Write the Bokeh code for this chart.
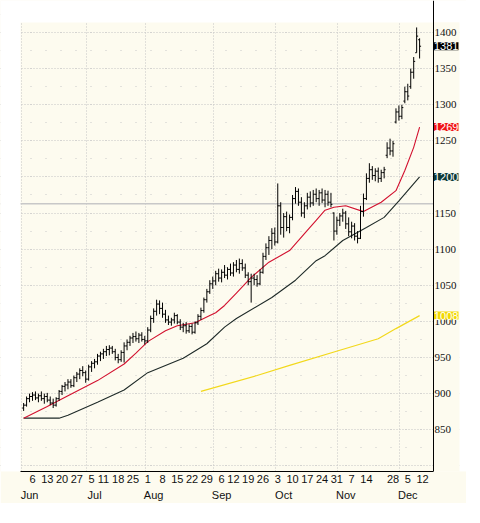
import pandas as pd
from bokeh.plotting import figure
from bokeh.models import (ColumnDataSource, FixedTicker, SingleIntervalTicker, Grid, LinearAxis,
                          Range1d, Span, Label, LabelSet, BoxAnnotation)
from bokeh.embed import file_html
from bokeh.resources import INLINE

# ---------------- data ----------------
first_day = "2005-06-01"
holidays = ["2005-07-04", "2005-09-05", "2005-11-24"]

opens = [880, 884, 893, 896, 898, 894, 897, 893, 896, 891, 887, 884, 893, 903, 910, 912, 916, 911, 922, 927,
         932, 929, 920, 937, 942, 944, 952, 955, 958, 961, 963, 958, 950, 947, 957, 966, 971, 977, 979, 976,
         981, 975, 973, 988, 1004, 1014, 1024, 1018, 1010, 1002, 999, 1002, 1008, 999, 992, 994, 987, 993, 985, 998,
         1007, 1015, 1030, 1041, 1052, 1056, 1066, 1060, 1068, 1064, 1072, 1067, 1078, 1072, 1080, 1074, 1064, 1055, 1060, 1058,
         1052, 1068, 1090, 1102, 1112, 1122, 1110, 1160, 1130, 1145, 1130, 1144, 1170, 1180, 1165, 1150, 1160, 1172, 1164, 1176,
         1170, 1178, 1168, 1176, 1165, 1150, 1125, 1140, 1146, 1150, 1135, 1124, 1132, 1118, 1115, 1152, 1170, 1198, 1210, 1202,
         1208, 1198, 1206, 1230, 1240, 1236, 1276, 1290, 1284, 1305, 1318, 1325, 1345, 1372, 1390]
highs = [887, 896, 900, 902, 903, 900, 903, 900, 901, 896, 893, 895, 905, 912, 916, 920, 920, 925, 930, 935,
         938, 932, 940, 945, 948, 955, 958, 962, 966, 967, 966, 962, 955, 960, 971, 975, 980, 984, 986, 984,
         985, 980, 992, 1008, 1018, 1030, 1029, 1026, 1016, 1008, 1005, 1012, 1010, 1003, 998, 999, 996, 997, 1000, 1010,
         1019, 1033, 1045, 1057, 1062, 1070, 1073, 1072, 1078, 1075, 1080, 1082, 1085, 1087, 1086, 1080, 1068, 1066, 1066, 1064,
         1072, 1095, 1108, 1118, 1129, 1130, 1191, 1165, 1150, 1152, 1148, 1175, 1186, 1184, 1172, 1165, 1178, 1180, 1182, 1184,
         1182, 1184, 1182, 1181, 1178, 1151, 1145, 1150, 1156, 1153, 1144, 1138, 1136, 1125, 1160, 1177, 1205, 1219, 1215, 1212,
         1213, 1210, 1214, 1248, 1253, 1250, 1295, 1299, 1300, 1325, 1329, 1350, 1366, 1407, 1392]
lows = [876, 882, 888, 890, 891, 888, 890, 886, 888, 884, 880, 882, 890, 898, 903, 906, 908, 909, 916, 920,
        924, 915, 918, 930, 935, 940, 945, 948, 952, 953, 955, 946, 942, 944, 943, 960, 966, 970, 972, 970,
        972, 968, 970, 985, 998, 1008, 1010, 1005, 998, 995, 994, 997, 996, 988, 985, 983, 984, 982, 983, 995,
        1002, 1012, 1026, 1038, 1045, 1050, 1055, 1054, 1060, 1058, 1063, 1062, 1068, 1066, 1070, 1060, 1050, 1026, 1050, 1048,
        1050, 1066, 1085, 1092, 1100, 1105, 1108, 1120, 1116, 1125, 1122, 1140, 1163, 1160, 1145, 1143, 1155, 1158, 1160, 1165,
        1160, 1164, 1158, 1160, 1158, 1112, 1120, 1132, 1138, 1128, 1118, 1115, 1112, 1108, 1114, 1145, 1168, 1192, 1196, 1194,
        1192, 1193, 1198, 1226, 1230, 1228, 1274, 1278, 1280, 1302, 1306, 1322, 1336, 1372, 1364]
closes = [884, 893, 896, 898, 894, 897, 893, 896, 891, 887, 884, 893, 903, 910, 912, 916, 911, 922, 927, 932,
          929, 920, 937, 942, 944, 952, 955, 958, 961, 963, 958, 950, 947, 957, 966, 971, 977, 979, 976, 981,
          975, 973, 988, 1004, 1014, 1024, 1018, 1010, 1002, 999, 1002, 1008, 999, 992, 994, 987, 993, 985, 998, 1007,
          1015, 1030, 1041, 1052, 1056, 1066, 1060, 1068, 1064, 1072, 1067, 1078, 1072, 1080, 1074, 1064, 1055, 1060, 1058, 1052,
          1068, 1090, 1102, 1112, 1122, 1110, 1160, 1130, 1145, 1130, 1144, 1170, 1180, 1165, 1150, 1160, 1172, 1164, 1176, 1170,
          1178, 1168, 1176, 1165, 1162, 1125, 1140, 1146, 1150, 1135, 1124, 1132, 1118, 1115, 1152, 1170, 1198, 1210, 1202, 1208,
          1198, 1206, 1210, 1240, 1236, 1246, 1290, 1284, 1296, 1318, 1312, 1345, 1360, 1395, 1381]

# moving averages (bar position, value)
red_pos = [0, 8, 15, 25, 34, 38, 42, 48, 52, 58, 63, 65, 68, 72, 77, 83, 90, 96, 99, 102, 105, 109, 115, 121, 126, 129, 132, 134]
red_val = [866, 882, 897, 918, 941, 956, 972, 987, 994, 998, 1008, 1012, 1022, 1039, 1061, 1082, 1098, 1126, 1140, 1154,
           1158, 1160, 1152, 1165, 1181, 1209, 1241, 1269]
black_pos = [0, 12, 15, 25, 34, 42, 54, 62, 68, 72, 84, 92, 99, 102, 108, 116, 122, 127, 134]
black_val = [866, 866, 870, 888, 905, 929, 949, 969, 992, 1004, 1033, 1057, 1084, 1091, 1112, 1130, 1144, 1167, 1200]
yellow_pos = [60, 79, 90, 107, 120, 126, 134]
yellow_val = [903, 925, 939, 960, 976, 990, 1008]

ref_level = 1163
price_ticks = [850, 900, 950, 1000, 1050, 1100, 1150, 1200, 1250, 1300, 1350, 1400]

day_tick_dates = ["2005-06-06", "2005-06-13", "2005-06-20", "2005-06-27", "2005-07-05", "2005-07-11",
                  "2005-07-18", "2005-07-25", "2005-08-01", "2005-08-08", "2005-08-15", "2005-08-22",
                  "2005-08-29", "2005-09-06", "2005-09-12", "2005-09-19", "2005-09-26", "2005-10-03",
                  "2005-10-10", "2005-10-17", "2005-10-24", "2005-10-31", "2005-11-07", "2005-11-14",
                  "2005-11-28", "2005-12-05", "2005-12-12"]
month_names = ["Jun", "Jul", "Aug", "Sep", "Oct", "Nov", "Dec"]

# ---------------- layout geometry (pixels of the picture) ----------------
PX_PER_BAR = 2.955
PX_PER_UNIT = 0.7222
X0_PIX, X0_BAR = 32.0, 3          # pixel of bar #3 (Jun 6)
Y0_PIX, Y0_VAL = 32.0, 1400.0     # pixel of price 1400
CANVAS_LEFT, CANVAS_TOP, CANVAS_RIGHT = 0, 0, 466
PLOT_LEFT, PLOT_TOP, AXIS_X, PLOT_BOTTOM, PLOT_RIGHT = 20, 22, 433, 471, 459

def xb(px):
    return X0_BAR + (px - X0_PIX) / PX_PER_BAR

def yv(py):
    return Y0_VAL - (py - Y0_PIX) / PX_PER_UNIT

# ---------------- build ----------------
days = [d for d in pd.bdate_range(first_day, "2005-12-16") if d.strftime("%Y-%m-%d") not in holidays]
day_str = [d.strftime("%Y-%m-%d") for d in days]
n = len(opens)
xs = list(range(n))
src = ColumnDataSource(dict(
    x=xs, xl=[x - 0.5 for x in xs], xr=[x + 0.5 for x in xs],
    o=opens, h=highs, l=lows, c=closes))

day_ticks = [day_str.index(d) for d in day_tick_dates]
day_labels = {t: str(int(d[-2:])) for t, d in zip(day_ticks, day_tick_dates)}

month_first = []
for m in range(6, 13):
    for i, d in enumerate(days):
        if d.month == m:
            month_first.append(i)
            break
month_bounds = [i - 0.7 for i in month_first]
month_label_pos = [i + 2 for i in month_first]
month_labels = {t: nm for t, nm in zip(month_label_pos, month_names)}

BG = "#fdfbef"
FONT = "Liberation Sans"
TXT = "#111111"

fw = CANVAS_RIGHT - CANVAS_LEFT
fh = PLOT_BOTTOM - CANVAS_TOP
p = figure(frame_width=fw, frame_height=fh, output_backend="svg", toolbar_location=None, title=None,
           x_range=Range1d(xb(CANVAS_LEFT), xb(CANVAS_RIGHT)), y_range=Range1d(yv(PLOT_BOTTOM), yv(CANVAS_TOP)),
           y_axis_location=None, min_border_left=0, min_border_top=0, min_border_right=0,
           min_border_bottom=29, background_fill_color=BG, border_fill_color=BG, outline_line_color=None)

# grids
yg = Grid(dimension=1, ticker=SingleIntervalTicker(interval=50, num_minor_ticks=2),
          grid_line_color="#c4c4c4", grid_line_dash="1 2",
          minor_grid_line_color="#c8c8c8", minor_grid_line_dash="1 14")
xg = Grid(dimension=0, ticker=FixedTicker(ticks=month_bounds),
          grid_line_color="#c4c4c4", grid_line_dash="1 2")
p.center = [c for c in p.center if not isinstance(c, Grid)]
p.add_layout(yg)
p.add_layout(xg)
p.add_layout(Span(location=ref_level, dimension="width", line_color="#c8c8c8", line_width=1.5, level="underlay"))

# page-coloured strips outside the chart area
p.add_layout(BoxAnnotation(right=xb(PLOT_LEFT), fill_color="white", fill_alpha=1, line_color=None, level="underlay"))
p.add_layout(BoxAnnotation(bottom=yv(PLOT_TOP), fill_color="white", fill_alpha=1, line_color=None, level="underlay"))
p.add_layout(BoxAnnotation(left=xb(AXIS_X), right=xb(PLOT_RIGHT), bottom=yv(PLOT_BOTTOM), top=yv(PLOT_TOP),
                           fill_color=BG, fill_alpha=1, line_color=None, level="underlay"))
p.add_layout(BoxAnnotation(left=xb(PLOT_RIGHT), fill_color="white", fill_alpha=1, line_color=None, level="underlay"))

# bottom axes
xax = p.xaxis[0]
xax.ticker = FixedTicker(ticks=day_ticks)
xax.major_label_overrides = day_labels
xax.bounds = (xb(PLOT_LEFT), xb(AXIS_X))
xax.major_tick_out = 0
xax.major_tick_in = 0
xax.minor_tick_line_color = None
xax.major_label_standoff = 3
xax.axis_line_color = "black"
xax.major_label_text_font = FONT
xax.major_label_text_font_size = "11px"
xax.major_label_text_color = TXT

max_ax = LinearAxis(ticker=FixedTicker(ticks=month_label_pos), major_label_overrides=month_labels,
                    axis_line_color=None, major_tick_line_color=None, minor_tick_line_color=None,
                    major_label_standoff=-3, major_label_text_font=FONT,
                    major_label_text_font_size="11px", major_label_text_color=TXT)
p.add_layout(max_ax, "below")

# moving averages
p.line(yellow_pos, yellow_val, line_color="#f2d81c", line_width=1.2)
p.line(black_pos, black_val, line_color="#1e2a28", line_width=1.1)
p.line(red_pos, red_val, line_color="#d2102e", line_width=1.1)

# OHLC bars
p.segment(x0="x", y0="l", x1="x", y1="h", source=src, line_color="black", line_width=1)
p.segment(x0="xl", y0="o", x1="x", y1="o", source=src, line_color="black", line_width=1)
p.segment(x0="x", y0="c", x1="xr", y1="c", source=src, line_color="black", line_width=1)

# price scale on the right
p.add_layout(Span(location=xb(AXIS_X), dimension="height", line_color="black", line_width=1))
tick_src = ColumnDataSource(dict(x=[xb(AXIS_X)] * len(price_ticks), y=price_ticks,
                                 t=[str(v) for v in price_ticks]))
p.add_layout(LabelSet(x="x", y="y", text="t", source=tick_src, x_offset=1, text_font=FONT,
                      text_font_size="11px", text_color=TXT, text_align="left", text_baseline="middle"))

# last-value boxes
for val, col in [(closes[-1], "#000000"), (red_val[-1], "#f01414"),
                 (black_val[-1], "#0e3a36"), (yellow_val[-1], "#f2d800")]:
    p.add_layout(Label(x=xb(AXIS_X), y=val, x_offset=0.5, text=str(val), text_color="white",
                       text_font=FONT, text_font_size="11px", text_align="left",
                       text_baseline="middle", background_fill_color=col, padding=0))

open("out.html", "w").write(file_html(p, INLINE))
